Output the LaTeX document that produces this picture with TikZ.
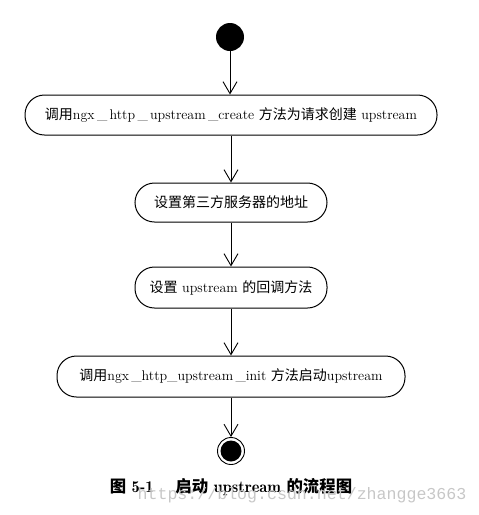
\documentclass[tikz,border=0pt]{standalone}
\usepackage{fontspec}
\newfontfamily\cjk{Noto Sans CJK SC}
\newfontfamily\wmfont{Liberation Mono}
\newfontfamily\capfont{Latin Modern Roman Demi}
\usetikzlibrary{arrows.meta}
\newcommand{\zh}[1]{{\cjk #1}}
\newcommand{\zhb}[1]{{\cjk\bfseries #1}}
\begin{document}
\begin{tikzpicture}[x=1pt,y=-1pt,
  actbox/.style={draw, line width=1pt, rounded corners=19.5pt, minimum height=40pt, inner sep=0pt, font=\fontsize{14}{16}\selectfont},
  flow/.style={line width=0.9pt, -{Straight Barb[length=12pt,width=14pt,line width=0.9pt]}},
  startdot/.style={circle, fill=black, minimum size=28pt, inner sep=0pt},
  enddot/.style={circle, draw, line width=0.9pt, minimum size=27pt, inner sep=0pt, path picture={\fill (path picture bounding box.center) circle (10.5pt);}}]
\useasboundingbox (0,0) rectangle (479,515);
\node[startdot] (s) at (230,37) {};
\node[actbox, minimum width=412pt] (b1) at (231,115) {\zh{调用}ngx\,\_\,http\,\_\,upstream\,\_create \zh{方法为请求创建} upstream};
\node[actbox, minimum width=192pt, minimum height=39pt] (b2) at (231,202.5) {\zh{设置第三方服务器的地址}};
\node[actbox, minimum width=192pt, minimum height=41pt] (b3) at (231,287.5) {\zh{设置} upstream \zh{的回调方法}};
\node[actbox, minimum width=348pt, minimum height=41pt] (b4) at (231,376.5) {\zh{调用}ngx\,\_http\_upstream\,\_init \zh{方法启动}upstream};
\node[enddot] (e) at (231,451) {};
\draw[flow] (s) -- (b1.north -| s);
\draw[flow] (b1) -- (b2);
\draw[flow] (b2) -- (b3);
\draw[flow] (b3) -- (b4);
\draw[flow] (b4) -- (e);
\node[font=\capfont\fontsize{16.4}{19}\selectfont] (cap) at (231,487) {\zhb{图} 5-1\quad\ \zhb{启动} upstream \zhb{的流程图}};
\node[font=\wmfont\fontsize{16.6}{18}\selectfont, text=black!22] (wm) at (302,495) {https://blog.csdn.net/zhangge3663};
\end{tikzpicture}
\end{document}
